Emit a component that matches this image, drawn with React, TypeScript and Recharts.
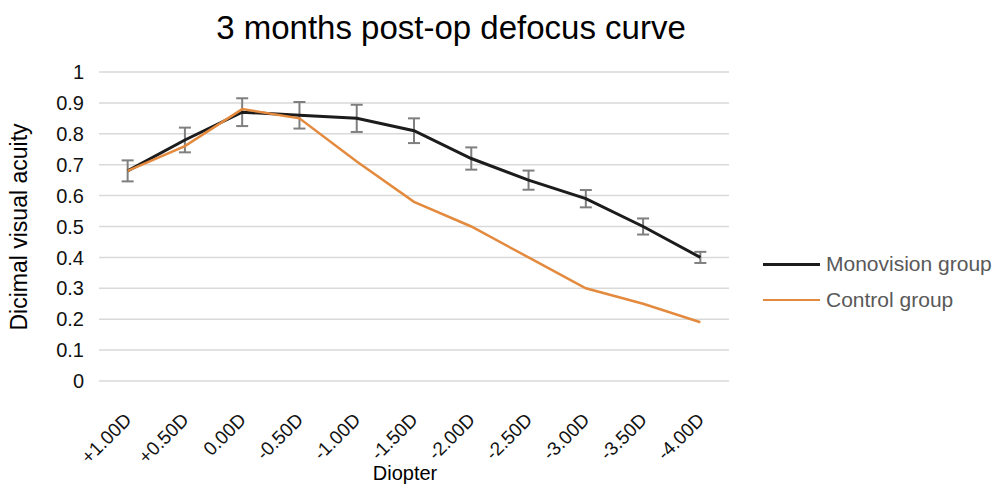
import React from "react";
import {
  LineChart,
  Line,
  XAxis,
  YAxis,
  CartesianGrid,
  Legend,
  ErrorBar,
} from "recharts";

const diopters = [
  "+1.00D", "+0.50D", "0.00D", "-0.50D", "-1.00D", "-1.50D",
  "-2.00D", "-2.50D", "-3.00D", "-3.50D", "-4.00D",
];
const monovision = [0.68, 0.78, 0.87, 0.86, 0.85, 0.81, 0.72, 0.65, 0.59, 0.5, 0.4];
const monovisionErr = [0.034, 0.04, 0.045, 0.043, 0.044, 0.04, 0.036, 0.031, 0.028, 0.026, 0.018];
const control = [0.68, 0.76, 0.88, 0.85, 0.71, 0.58, 0.5, 0.4, 0.3, 0.25, 0.19];
const yTicks = [0, 0.1, 0.2, 0.3, 0.4, 0.5, 0.6, 0.7, 0.8, 0.9, 1];
const legendOrder = ["Monovision group", "Control group"];

const FONT = '"Liberation Sans", Arial, sans-serif';
const BLACK = "#1c1c1c";
const ORANGE = "#e38a3e";

const data = diopters.map((d, i) => ({
  d,
  mono: monovision[i],
  monoErr: monovisionErr[i],
  control: control[i],
}));

const XTick = (props: any) => {
  const { x, y, payload } = props;
  const ax = x + 5;
  const ay = y + 32;
  return (
    <text
      x={ax}
      y={ay}
      transform={`rotate(-45, ${ax}, ${ay})`}
      textAnchor="end"
      fontSize={19}
      fontFamily={FONT}
      fill="#111"
    >
      {payload.value}
    </text>
  );
};

const LegendBox = (props: any) => {
  const items = [...(props.payload || [])].sort(
    (a: any, b: any) => legendOrder.indexOf(a.value) - legendOrder.indexOf(b.value)
  );
  return (
    <div style={{ fontFamily: FONT }}>
      {items.map((it: any) => (
        <div
          key={it.value}
          style={{ display: "flex", alignItems: "center", height: 36 }}
        >
          <div
            style={{
              width: 57,
              height: it.dataKey === "mono" ? 3 : 2.5,
              background: it.color,
              marginRight: 6,
            }}
          />
          <span style={{ fontSize: 21, color: "#595959" }}>{it.value}</span>
        </div>
      ))}
    </div>
  );
};

export default function App() {
  return (
    <div style={{ position: "absolute", left: 0, top: 0, width: 996, height: 487, background: "#fff" }}>
      <LineChart
        width={996}
        height={487}
        data={data}
        margin={{ top: 72, right: 267, bottom: 0, left: 0 }}
      >
        <CartesianGrid vertical={false} stroke="#d9d9d9" strokeWidth={1.5} />
        <XAxis
          dataKey="d"
          scale="band"
          height={106}
          axisLine={false}
          tickLine={false}
          interval={0}
          tick={<XTick />}
        />
        <YAxis
          width={99}
          domain={[0, 1]}
          ticks={yTicks}
          axisLine={false}
          tickLine={false}
          tickMargin={9}
          tick={{ fontSize: 20, fontFamily: FONT, fill: "#111" }}
        />
        <Legend
          layout="vertical"
          verticalAlign="middle"
          align="center"
          content={<LegendBox />}
          wrapperStyle={{ left: 763, top: 246, width: 233 }}
        />
        <Line
          name="Monovision group"
          dataKey="mono"
          stroke={BLACK}
          strokeWidth={3}
          dot={false}
          isAnimationActive={false}
        >
          <ErrorBar dataKey="monoErr" width={6} stroke="#7f7f7f" strokeWidth={2} direction="y" />
        </Line>
        <Line
          name="Control group"
          dataKey="control"
          stroke={ORANGE}
          strokeWidth={2.5}
          dot={false}
          isAnimationActive={false}
        />
      </LineChart>
      <svg
        width={996}
        height={487}
        style={{ position: "absolute", left: 0, top: 0, pointerEvents: "none" }}
      >
        <text x={451} y={39} textAnchor="middle" fontSize={33} fontFamily={FONT} fill="#000">
          3 months post-op defocus curve
        </text>
        <text
          x={27}
          y={227}
          transform="rotate(-90, 27, 227)"
          textAnchor="middle"
          fontSize={23}
          fontFamily={FONT}
          fill="#000"
        >
          Dicimal visual acuity
        </text>
        <text x={405} y={480} textAnchor="middle" fontSize={20} fontFamily={FONT} fill="#000">
          Diopter
        </text>
      </svg>
    </div>
  );
}
